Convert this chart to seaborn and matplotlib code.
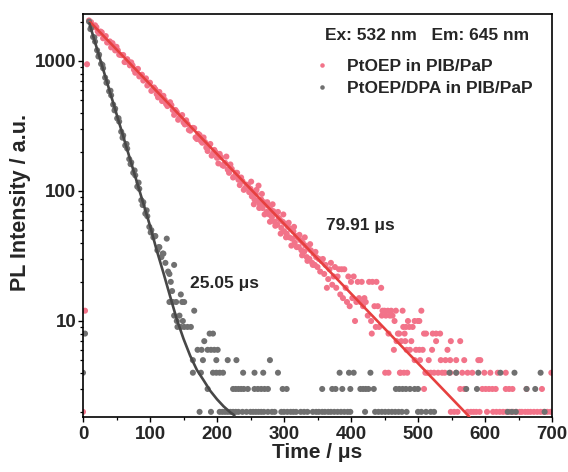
import numpy as np
import pandas as pd
import matplotlib
matplotlib.use("Agg")
import matplotlib.pyplot as plt
import seaborn as sns
from matplotlib.ticker import (AutoMinorLocator, LogLocator, NullFormatter,
                               FixedLocator, FixedFormatter)

# ---------------- data ----------------
red_label = "PtOEP in PIB/PaP"
gray_label = "PtOEP/DPA in PIB/PaP"

red_t = ([0, 3, 6, 9]
         + [12, 16, 20, 24, 28, 32, 36, 40, 44, 48, 52, 56, 60, 64, 68, 72, 76, 80, 84, 88,
            92, 96, 100, 104, 108, 112, 116, 120, 124, 128, 132, 136, 140, 144, 148, 152, 156, 160,
            164, 168, 172, 176, 180, 184, 188, 192, 196, 200, 204, 208, 212, 216, 220, 224, 228,
            232, 236, 240, 244, 248]
         + [14, 18, 22, 26, 30, 34, 38, 42, 46, 50, 54, 58, 62, 66, 70, 74, 78, 82, 86, 90,
            94, 98, 102, 106, 110, 114, 118, 122, 126, 130, 134, 138, 142, 146, 150, 154, 158,
            162, 166, 170, 174, 178, 182, 186, 190, 194, 198, 202, 206, 210, 214, 218, 222, 226,
            230, 234, 238, 242, 246]
         + [250, 252, 254, 256, 258, 260, 262, 264, 266, 268,
            270, 272, 274, 276, 278, 280, 282, 284, 286, 288,
            290, 292, 294, 296, 298, 300, 302, 304, 306, 308,
            310, 312, 314, 316, 318, 320, 322, 324, 326, 328,
            330, 332, 334, 336, 338, 340, 342, 344, 346, 348,
            350, 352, 354, 356, 358, 360, 362, 364, 366, 368,
            370, 372, 374, 376, 378, 380, 382, 384, 386, 388,
            390, 392, 394, 396, 398, 400, 402, 404, 406, 408,
            410, 412, 414, 416, 418, 420]
         + [251, 255, 259, 263, 267, 271, 275, 279, 283, 287, 291, 295, 299, 303, 307, 311,
            315, 319, 323, 327, 331, 335, 339, 343, 347]
         + [422, 425, 427, 430, 431, 432, 435, 437, 438, 440, 442, 445, 446, 447, 450, 451, 452,
            455, 456, 456, 458, 460, 462, 464, 465, 467, 468, 470, 472, 473, 474, 475, 477, 478,
            479, 480, 481, 482, 483, 484, 485, 487, 488, 490, 492, 495, 495, 497, 500, 502, 502,
            503, 505, 507, 509, 509, 511, 512, 514, 516, 519, 521, 522, 524, 527, 527, 530, 533,
            534, 536, 540, 541, 544, 548, 548, 549, 549, 554, 557, 557, 559, 563, 563, 566, 569,
            569, 574, 574, 579, 581, 583, 587, 590, 592, 593, 596, 599, 601, 603, 606, 608, 611,
            612, 616, 617, 619, 622, 627, 631, 631, 632, 636, 637, 641, 642, 647, 652, 655, 660,
            662, 664, 668, 673, 678, 683, 685, 688, 693, 698, 699])

red_I = ([2, 12, 944, 2050]
         + [1990, 1818, 1820, 1628, 1661, 1519, 1387, 1415, 1372, 1206, 1207, 1114, 1113, 987,
            987, 976, 858, 858, 761, 784, 724, 648, 681, 605, 605, 525, 542, 540, 467, 462, 457,
            385, 405, 367, 384, 325, 328, 291,
            306, 258, 275, 243, 258, 216, 220, 187, 207, 180, 193, 158, 165, 146, 160, 127, 138,
            122, 127, 102, 112, 98]
         + [1845, 1882, 1687, 1686, 1496, 1555, 1395, 1273, 1300, 1286,
            1119, 1108, 981, 1033, 925, 925, 812, 870, 765, 707,
            735, 672, 589, 626, 556, 578, 492, 503, 450, 482,
            420, 420, 353, 376, 337, 350, 295, 302, 304, 251,
            270, 235, 238, 203, 230, 194, 198, 163, 182, 156,
            184, 138, 148, 129, 138, 111, 119, 105, 111]
         + [104, 91, 98, 86, 95, 84, 110, 79, 86, 74,
            82, 80, 69, 77, 66, 72, 63, 70, 58, 67,
            55, 62, 60, 52, 58, 49, 56, 47, 53, 44,
            51, 43, 49, 40, 45, 44, 37, 42, 35, 40,
            34, 38, 31, 36, 30, 35, 28, 33, 27, 31,
            26, 30, 24, 29, 30, 23, 27, 18, 21, 25,
            28, 19, 22, 26, 18, 22, 25, 16, 25, 15,
            25, 18, 14, 22, 13, 20, 15, 22, 10, 14,
            20, 15, 14, 20, 13, 15]
         + [118, 79, 102, 74, 95, 66, 82, 58, 79, 54, 69, 47, 66, 44, 57, 38,
            53, 37, 46, 32, 44, 29, 39, 27, 34]
         + [14, 11, 20, 10, 8, 20, 13, 9, 20, 13, 9, 18, 11, 12, 12, 4, 11,
            12, 8, 4, 11, 12, 11, 6, 10, 12, 7, 8, 8, 4, 4, 7, 12, 9,
            4, 8, 7, 9, 6, 4, 10, 9, 6, 7, 9, 10, 5, 6, 10, 10, 6,
            5, 12, 6, 8, 3, 4, 8, 4, 5, 4, 6, 8, 4, 8, 7, 4, 8,
            5, 4, 4, 5, 6, 5, 4, 7, 2, 2, 5, 4, 2, 7, 3, 4, 5,
            3, 4, 2, 2, 4, 2, 2, 5, 2, 5, 3, 4, 3, 2, 3, 4, 3,
            2, 3, 2, 4, 2, 2, 4, 3, 2, 3, 2, 3, 2, 2, 2, 2, 2,
            3, 2, 2, 2, 2, 2, 3, 2, 2, 2, 4])

gray_t = ([0, 3]
          + [9, 12, 15, 18, 21, 24, 27, 30, 33, 36, 39, 42, 45, 48, 51, 54, 57, 60, 63, 66,
             69, 72, 75, 78, 81, 84, 87, 90, 93, 96, 99, 102, 105, 108, 111, 114, 117, 120, 123]
          + [11, 17, 23, 29, 35, 41, 47, 53, 59, 65, 71, 77, 83, 89, 95, 101, 107, 113, 119]
          + [125, 127, 129, 129, 131, 133, 134, 136, 136, 139, 140, 141, 144, 146, 146, 148, 149,
             151, 151, 156, 161, 164, 164, 166, 171, 174, 176, 177, 179, 181, 186, 186, 189, 191,
             191, 194, 194, 196, 199, 199, 201, 204, 204, 208, 209, 212, 216, 216, 220, 224, 224,
             228, 228, 229, 232, 232, 236, 238, 239, 240, 244, 246, 250, 254, 256, 256, 258, 261,
             262, 266, 266, 269, 270, 271, 276, 276, 279, 282, 286, 291, 296, 298, 300, 304, 305,
             310, 314, 318, 325, 330, 335, 343, 348, 352, 357, 357, 361, 366, 370, 372, 375, 377,
             380, 383, 385, 387, 390, 395, 397, 399, 399, 404, 414, 418, 421, 422, 426, 429, 434,
             436, 441, 446, 451, 456, 461, 466, 467, 471, 472, 476, 477, 482, 483, 488, 495, 500,
             500, 505, 512, 519, 524, 547, 557, 572, 588, 590, 623, 634, 640, 644, 646, 662, 675,
             683, 689])

gray_I = ([4, 8]
          + [2010, 1800, 1530, 1410, 1210, 1120, 950, 880, 745, 690, 585, 545, 462, 430, 362,
             342, 286, 268, 224, 212, 176, 166, 138, 132, 108, 104, 85, 82, 67, 64, 53, 50, 44,
             45, 35, 37, 31, 33, 28]
          + [1760, 1520, 1083, 934, 680, 591, 417, 363, 257, 230, 161, 144, 116, 78, 71, 48,
             45, 37, 33]
          + [43, 24, 23, 14, 20, 17, 14, 27, 11, 14, 10, 9, 11, 16, 9, 14, 10,
             14, 9, 9, 9, 5, 4, 12, 6, 2, 4, 6, 5, 7, 6, 3, 8, 6,
             2, 8, 4, 6, 5, 4, 6, 4, 2, 2, 4, 2, 5, 2, 2, 3, 2,
             3, 2, 5, 3, 2, 3, 2, 4, 3, 2, 3, 2, 2, 3, 4, 2, 3,
             2, 3, 2, 4, 2, 3, 3, 2, 5, 2, 2, 4, 2, 3, 2, 3, 2,
             2, 2, 2, 2, 2, 2, 2, 2, 2, 3, 2, 2, 2, 2, 3, 2, 3,
             2, 4, 2, 3, 2, 2, 4, 3, 2, 4, 3, 3, 2, 3, 3, 4, 3,
             2, 2, 2, 2, 2, 2, 2, 3, 2, 3, 2, 3, 3, 2, 3, 3, 3,
             2, 2, 2, 2, 2, 4, 4, 3, 3, 4, 4, 2, 2, 4, 2, 3, 3,
             4, 2])

# exponential fit curves
red_fit_t = [10.5, 577]
red_fit_I = [2000, 1.826]
gray_fit_t = [9.5, 100, 110, 120, 130, 140, 150, 160, 170, 180, 190, 200, 210, 220, 226]
gray_fit_I = [1950, 54, 35, 23.5, 15.5, 10.3, 7.3, 5.4, 4.2, 3.5, 2.9, 2.5, 2.2, 1.98, 1.88]

xtick_vals = [0, 100, 200, 300, 400, 500, 600, 700]
ytick_vals = [10, 100, 1000]
ytick_labels = ["10", "100", "1000"]
header = "Ex: 532 nm   Em: 645 nm"
red_tau_label = "79.91 μs"
gray_tau_label = "25.05 μs"

# ---------------- style ----------------
sns.set_style("ticks")
plt.rcParams['font.family'] = ['Liberation Sans', 'DejaVu Sans']
plt.rcParams['font.weight'] = 'bold'
plt.rcParams['axes.labelweight'] = 'bold'

red_pt, red_ln = "#F27389", "#E6403F"
gray_pt, gray_ln = "#707070", "#474747"

fig = plt.figure(figsize=(5.68, 4.72), dpi=100)
ax = fig.add_axes([83 / 568, 1 - 417 / 472, 469 / 568, 403 / 472])

pts = pd.concat([
    pd.DataFrame({"t": red_t, "I": red_I, "series": red_label}),
    pd.DataFrame({"t": gray_t, "I": gray_I, "series": gray_label}),
], ignore_index=True)
fits = pd.concat([
    pd.DataFrame({"t": red_fit_t, "I": red_fit_I, "series": red_label}),
    pd.DataFrame({"t": gray_fit_t, "I": gray_fit_I, "series": gray_label}),
], ignore_index=True)

ax.set_yscale("log")
sns.scatterplot(data=pts, x="t", y="I", hue="series",
                palette={red_label: red_pt, gray_label: gray_pt},
                s=19, linewidth=0, ax=ax, legend=True, zorder=2)
sns.lineplot(data=fits, x="t", y="I", hue="series",
             palette={red_label: red_ln, gray_label: gray_ln},
             estimator=None, errorbar=None, sort=True, lw=1.9, ax=ax,
             legend=False, zorder=3)

ax.set_xlim(0, 700)
ax.set_ylim(1.826, 2299)
ax.xaxis.set_major_locator(FixedLocator(xtick_vals))
ax.xaxis.set_minor_locator(AutoMinorLocator(2))
ax.yaxis.set_major_locator(FixedLocator(ytick_vals))
ax.yaxis.set_major_formatter(FixedFormatter(ytick_labels))
ax.yaxis.set_minor_locator(LogLocator(base=10, subs=range(2, 10)))
ax.yaxis.set_minor_formatter(NullFormatter())

ax.tick_params(which="major", direction="out", length=3.3, width=1.0,
               labelsize=13.5, color="black")
ax.tick_params(axis="y", which="major", pad=1.5)
ax.tick_params(axis="x", which="major", pad=3)
ax.tick_params(which="minor", direction="out", length=2.0, width=0.9, color="black")
for lab in ax.get_xticklabels() + ax.get_yticklabels():
    lab.set_fontweight("bold")
for sp in ax.spines.values():
    sp.set_linewidth(1.2)
    sp.set_color("black")

ax.set_xlabel("Time / μs", fontsize=15, fontweight="bold", labelpad=0)
ax.set_ylabel("PL Intensity / a.u.", fontsize=15.5, fontweight="bold")
ax.yaxis.set_label_coords(-0.11, 0.533)

ax.text(0.516, 0.946, header, transform=ax.transAxes, fontsize=12.5,
        fontweight="bold", va="center", ha="left")
ax.text(363, 54.7, red_tau_label, fontsize=12.5, fontweight="bold", va="center", ha="left")
ax.text(160.4, 19.6, gray_tau_label, fontsize=12.5, fontweight="bold", va="center", ha="left")

handles, labels = ax.get_legend_handles_labels()
leg = ax.legend(handles, labels, loc="upper left", bbox_to_anchor=(0.4985, 0.888),
                frameon=False, fontsize=12.5, handlelength=0.6, handletextpad=1.14,
                borderaxespad=0, borderpad=0, labelspacing=0.4, markerscale=0.75)
for txt in leg.get_texts():
    txt.set_fontweight("bold")

fig.savefig("out.png", dpi=100)
